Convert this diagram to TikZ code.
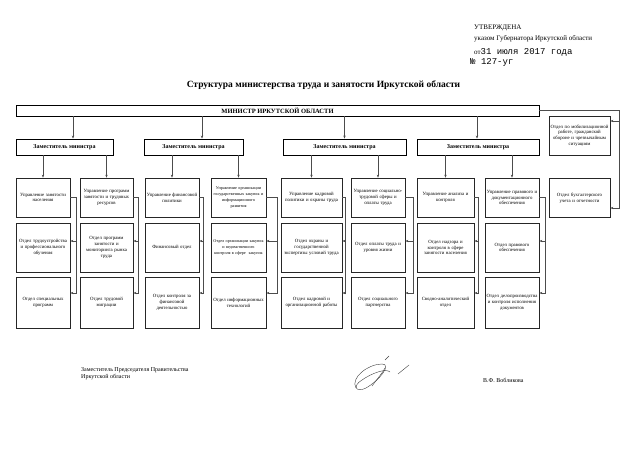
\documentclass[tikz,border=0pt]{standalone}
\usepackage{fontspec}
\setmainfont{Liberation Serif}
\setmonofont{Liberation Mono}
\usetikzlibrary{arrows.meta}

\newcommand{\unitfont}{\fontsize{4.8}{5.8}\selectfont}
\newcommand{\narrowfont}{\fontsize{4.2}{5.8}\selectfont}

\tikzset{
  unit/.style={draw=black!85, line width=0.7pt, text width=#1pt, inner xsep=1pt,
               inner ysep=0pt, align=center, font=\unitfont},
  hrow/.style={minimum height=39pt},
  mrow/.style={minimum height=49pt},
  lrow/.style={minimum height=51pt},
  chief/.style={draw, line width=0.9pt, inner sep=0pt, minimum height=16pt,
                font=\bfseries\fontsize{6}{7}\selectfont},
  feed/.style={draw=black!70, line width=0.6pt},
  tip/.style={-{Stealth[length=3pt,width=2.4pt]}},
  note/.style={anchor=west, inner sep=0pt, align=left}
}

\begin{document}
\begin{tikzpicture}[x=1pt,y=-1pt]
\useasboundingbox (0,0) rectangle (640,452);

\node[note, font=\fontsize{7}{8}\selectfont] (appr) at (474,28) {УТВЕРЖДЕНА};
\node[note, font=\fontsize{7}{8}\selectfont] (decree) at (474,38.5) {указом Губернатора Иркутской области};
\node[note] (date) at (474,52) {\fontsize{7}{8}\selectfont от\ttfamily\fontsize{9}{10}\selectfont 31 июля 2017 года};
\node[note, font=\ttfamily\fontsize{9}{10}\selectfont] (num) at (470,62) {№ 127-уг};

\node[font=\bfseries\fontsize{9.5}{11}\selectfont] (title) at (323.5,85)
  {Структура министерства труда и занятости Иркутской области};

\node[chief, minimum width=523pt, minimum height=11pt, font=\bfseries\fontsize{6.5}{7}\selectfont]
  (minbar) at (277.5,110.5) {МИНИСТР ИРКУТСКОЙ ОБЛАСТИ};

\node[chief, minimum width=97pt] (dep1) at (64.5,147) {Заместитель министра};
\node[chief, minimum width=99pt] (dep2) at (193.5,147) {Заместитель министра};
\node[chief, minimum width=123pt] (dep3) at (344.5,147) {Заместитель министра};
\node[chief, minimum width=122pt] (dep4) at (478,147) {Заместитель министра};

\node[unit=52, hrow] (A1) at (43,197.5) {Управление занятости\\населения};
\node[unit=52, mrow] (A2) at (43,247.5) {Отдел трудоустройства\\и профессионального\\обучения};
\node[unit=52, lrow] (A3) at (43,302.5) {Отдел специальных\\программ};
\node[unit=51, hrow] (B1) at (106.5,197.5) {Управление программ\\занятости и трудовых\\ресурсов};
\node[unit=51, mrow] (B2) at (106.5,247.5) {Отдел программ\\занятости и\\мониторинга рынка\\труда};
\node[unit=51, lrow] (B3) at (106.5,302.5) {Отдел трудовой\\миграции};

\node[unit=52, hrow] (C1) at (172,197.5) {Управление финансовой\\политики};
\node[unit=52, mrow] (C2) at (172,247.5) {Финансовый отдел};
\node[unit=52, lrow] (C3) at (172,302.5) {Отдел контроля за\\финансовой\\деятельностью};
\node[unit=53, hrow, font=\narrowfont] (D1) at (238.5,197.5) {Управление организации\\государственных закупок и\\информационного\\развития};
\node[unit=53, mrow, font=\narrowfont] (D2) at (238.5,247.5) {Отдел организации закупок\\и ведомственного\\контроля в сфере~ закупок};
\node[unit=53, lrow] (D3) at (238.5,302.5) {Отдел информационных\\технологий};

\node[unit=59, hrow] (E1) at (311.5,197.5) {Управление кадровой\\политики и охраны труда};
\node[unit=59, mrow] (E2) at (311.5,247.5) {Отдел охраны и\\государственной\\экспертизы условий труда};
\node[unit=59, lrow] (E3) at (311.5,302.5) {Отдел кадровой и\\организационной работы};
\node[unit=52, hrow] (F1) at (378,197.5) {Управление социально-\\трудовой сферы и\\оплаты труда};
\node[unit=52, mrow] (F2) at (378,247.5) {Отдел оплаты труда и\\уровня жизни};
\node[unit=52, lrow] (F3) at (378,302.5) {Отдел социального\\партнерства};

\node[unit=55, hrow] (G1) at (445.5,197.5) {Управление анализа и\\контроля};
\node[unit=55, mrow] (G2) at (445.5,247.5) {Отдел надзора и\\контроля в сфере\\занятости населения};
\node[unit=55, lrow] (G3) at (445.5,302.5) {Сводно-аналитический\\отдел};
\node[unit=52, hrow] (H1) at (512,197.5) {Управление правового и\\документационного\\обеспечения};
\node[unit=52, mrow] (H2) at (512,247.5) {Отдел правового\\обеспечения};
\node[unit=52, lrow] (H3) at (512,302.5) {Отдел делопроизводства\\и контроля исполнения\\документов};

\node[unit=59, hrow] (mob) at (579.5,135.5) {Отдел по мобилизационной\\работе, гражданской\\обороне и чрезвычайным\\ситуациям};
\node[unit=59, hrow] (acc) at (579.5,198) {Отдел бухгалтерского\\учета и отчетности};

\foreach \who/\sh in {dep1/8.5, dep2/8.5, dep3/0, dep4/-1}{
  \path ([xshift=\sh pt]\who.north) coordinate (in\who);
  \draw[feed,tip] (minbar.south -| in\who) -- (in\who);
}
\foreach \who/\lc/\rc in {dep1/A/B, dep2/C/D, dep3/E/F, dep4/G/H}{
  \draw[feed,tip] (\who.south -| \lc1.north) -- (\lc1.north);
  \draw[feed,tip] (\who.south -| \rc1.north) -- (\rc1.north);
}

\coordinate (r2) at (0,241);
\coordinate (r3) at (0,293);
\foreach \col/\off in {A/6,B/5,C/4,D/11,E/3,F/8,G/4,H/6}{
  \draw[feed,tip] (\col1.east) -- ++(\off,0) coordinate (rail\col) |- (\col3.east |- r3);
  \draw[feed,tip] (rail\col |- r2) -- (\col2.east |- r2);
}

\coordinate (railR) at (619,110.5);
\coordinate (mobin) at ([yshift=14.5pt]mob.east);
\coordinate (accin) at ([yshift=-10pt]acc.east);
\draw[feed,tip] (minbar.east) -- (railR) |- (accin);
\draw[feed,tip] (railR |- mobin) -- (mobin);

\node[note, font=\fontsize{6}{7}\selectfont] (deputy) at (81,374)
  {Заместитель Председателя Правительства\\Иркутской области};
\node[note, font=\fontsize{6}{7}\selectfont] (signer) at (483,380) {В.Ф. Вобликова};

\draw[black!75, line width=0.4pt] (356,388) .. controls (350,378) and (368,364) .. (382,364)
  .. controls (392,364) and (380,380) .. (366,388) .. controls (356,393) and (352,386) .. (362,380)
  .. controls (372,373) and (386,368) .. (390,372);
\draw[black!75, line width=0.4pt] (372,386) .. controls (378,378) and (383,372) .. (385,368);
\draw[black!75, line width=0.4pt] (398,374) -- (409,365);
\draw[black!75, line width=0.4pt] (385,360) -- (389,356);
\end{tikzpicture}
\end{document}
